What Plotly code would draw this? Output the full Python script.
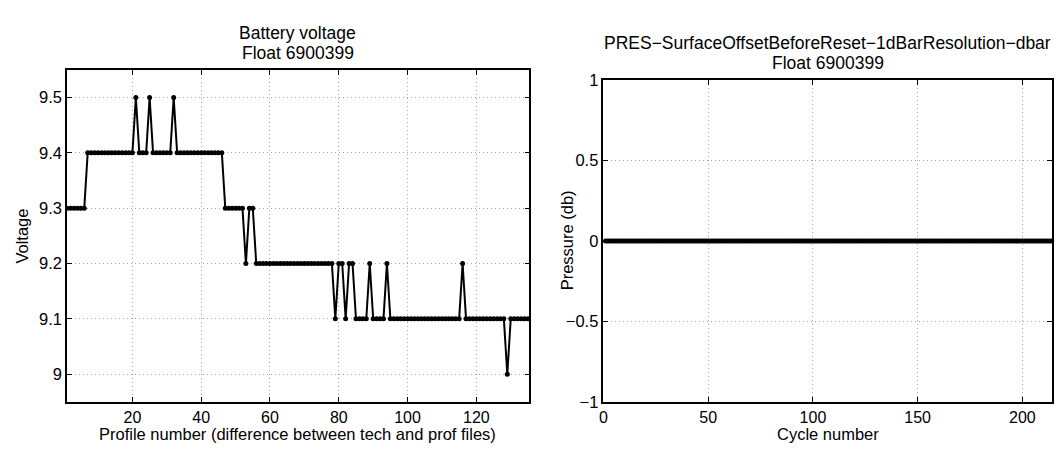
import plotly.graph_objects as go

# ---- data ----
profile_numbers = list(range(1, 136))
voltage = [
    9.3, 9.3, 9.3, 9.3, 9.3, 9.3, 9.4, 9.4, 9.4, 9.4,
    9.4, 9.4, 9.4, 9.4, 9.4, 9.4, 9.4, 9.4, 9.4, 9.4,
    9.5, 9.4, 9.4, 9.4, 9.5, 9.4, 9.4, 9.4, 9.4, 9.4,
    9.4, 9.5, 9.4, 9.4, 9.4, 9.4, 9.4, 9.4, 9.4, 9.4,
    9.4, 9.4, 9.4, 9.4, 9.4, 9.4, 9.3, 9.3, 9.3, 9.3,
    9.3, 9.3, 9.2, 9.3, 9.3, 9.2, 9.2, 9.2, 9.2, 9.2,
    9.2, 9.2, 9.2, 9.2, 9.2, 9.2, 9.2, 9.2, 9.2, 9.2,
    9.2, 9.2, 9.2, 9.2, 9.2, 9.2, 9.2, 9.2, 9.1, 9.2,
    9.2, 9.1, 9.2, 9.2, 9.1, 9.1, 9.1, 9.1, 9.2, 9.1,
    9.1, 9.1, 9.1, 9.2, 9.1, 9.1, 9.1, 9.1, 9.1, 9.1,
    9.1, 9.1, 9.1, 9.1, 9.1, 9.1, 9.1, 9.1, 9.1, 9.1,
    9.1, 9.1, 9.1, 9.1, 9.1, 9.2, 9.1, 9.1, 9.1, 9.1,
    9.1, 9.1, 9.1, 9.1, 9.1, 9.1, 9.1, 9.1, 9.0, 9.1,
    9.1, 9.1, 9.1, 9.1, 9.1,
]

cycle_numbers = list(range(1, 215))
pressure_offset = [
    0, 0, 0, 0, 0, 0, 0, 0, 0, 0, 0, 0, 0, 0, 0, 0, 0, 0, 0, 0,
    0, 0, 0, 0, 0, 0, 0, 0, 0, 0, 0, 0, 0, 0, 0, 0, 0, 0, 0, 0,
    0, 0, 0, 0, 0, 0, 0, 0, 0, 0, 0, 0, 0, 0, 0, 0, 0, 0, 0, 0,
    0, 0, 0, 0, 0, 0, 0, 0, 0, 0, 0, 0, 0, 0, 0, 0, 0, 0, 0, 0,
    0, 0, 0, 0, 0, 0, 0, 0, 0, 0, 0, 0, 0, 0, 0, 0, 0, 0, 0, 0,
    0, 0, 0, 0, 0, 0, 0, 0, 0, 0, 0, 0, 0, 0, 0, 0, 0, 0, 0, 0,
    0, 0, 0, 0, 0, 0, 0, 0, 0, 0, 0, 0, 0, 0, 0, 0, 0, 0, 0, 0,
    0, 0, 0, 0, 0, 0, 0, 0, 0, 0, 0, 0, 0, 0, 0, 0, 0, 0, 0, 0,
    0, 0, 0, 0, 0, 0, 0, 0, 0, 0, 0, 0, 0, 0, 0, 0, 0, 0, 0, 0,
    0, 0, 0, 0, 0, 0, 0, 0, 0, 0, 0, 0, 0, 0, 0, 0, 0, 0, 0, 0,
    0, 0, 0, 0, 0, 0, 0, 0, 0, 0, 0, 0, 0, 0,
]

left_xticks = [20, 40, 60, 80, 100, 120]
left_yticks = [9.0, 9.1, 9.2, 9.3, 9.4, 9.5]
left_yticklabels = ["9", "9.1", "9.2", "9.3", "9.4", "9.5"]
right_xticks = [0, 50, 100, 150, 200]
right_yticks = [-1, -0.5, 0, 0.5, 1]

W, H = 1064, 455
FONT = "Liberation Sans, Arial, Helvetica, sans-serif"

def px_x(p):
    return p / W

def px_y(p):
    return 1 - p / H

fig = go.Figure()

fig.add_trace(go.Scatter(
    x=profile_numbers, y=voltage, mode="lines+markers",
    line=dict(color="black", width=2),
    marker=dict(color="black", size=5),
    xaxis="x", yaxis="y", showlegend=False,
))
fig.add_trace(go.Scatter(
    x=cycle_numbers, y=pressure_offset, mode="lines+markers",
    line=dict(color="black", width=2),
    marker=dict(color="black", size=5),
    xaxis="x2", yaxis="y2", showlegend=False, cliponaxis=False,
))

axis_common = dict(
    showline=True, linecolor="black", linewidth=1.5, mirror="allticks",
    ticks="inside", ticklen=5, tickcolor="black", tickwidth=1,
    showgrid=True, gridcolor="#a6a6a6", griddash="1px,3px", gridwidth=1,
    zeroline=False,
)
yfont = dict(family=FONT, size=16.5, color="black")
xfont = dict(family=FONT, size=16, color="black")

fig.update_layout(
    width=W, height=H,
    margin=dict(l=0, r=0, t=0, b=0),
    paper_bgcolor="white", plot_bgcolor="white",
    xaxis=dict(domain=[px_x(63.3), px_x(527.3)], range=[1, 135.4],
               tickvals=left_xticks, anchor="y", ticklabelstandoff=0,
               tickfont=xfont, **axis_common),
    yaxis=dict(domain=[px_y(409), px_y(63.3)], range=[8.95, 9.55],
               tickvals=left_yticks, ticktext=left_yticklabels, anchor="x",
               tickfont=yfont, **axis_common),
    xaxis2=dict(domain=[px_x(601.7), px_x(1051.7)], range=[0, 214],
                tickvals=right_xticks, anchor="y2", ticklabelstandoff=0,
                tickfont=xfont, **axis_common),
    yaxis2=dict(domain=[px_y(409.3), px_y(74)], range=[-1, 1],
                tickvals=right_yticks, anchor="x2",
                tickfont=yfont, **axis_common),
)

def ann(text, x, y, size=18, angle=0):
    fig.add_annotation(text=text, x=px_x(x), y=px_y(y), xref="paper", yref="paper",
                       showarrow=False, textangle=angle, xanchor="center", yanchor="middle",
                       borderpad=0,
                       font=dict(family=FONT, size=size, color="black"))

# titles
ann("Battery voltage", 295, 25, size=17.5)
ann("Float 6900399", 295, 46, size=17.5)
ann("PRES\u2212SurfaceOffsetBeforeReset\u22121dBarResolution\u2212dbar", 826.7, 35, size=17.5)
ann("Float 6900399", 826.7, 56, size=17.5)
# axis titles
ann("Profile number (difference between tech and prof files)", 295, 443, size=16.5)
ann("Cycle number", 826.7, 443, size=16.5)
ann("Voltage", 18, 236, size=16.5, angle=-90)
ann("Pressure (db)", 566, 241, size=16.5, angle=-90)

fig.write_html("out.html")
